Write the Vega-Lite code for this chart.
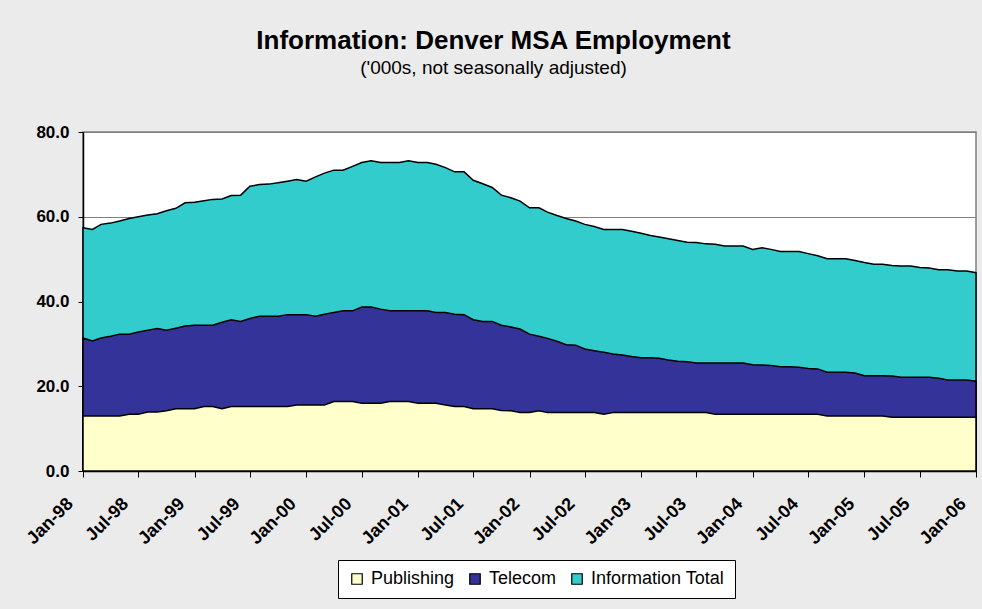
{
  "$schema": "https://vega.github.io/schema/vega-lite/v6.json",
  "width": 893,
  "height": 339,
  "autosize": {"type": "none"},
  "padding": {"left": 83, "top": 132, "right": 6, "bottom": 138},
  "background": "#ebebeb",
  "config": {
    "font": "Liberation Sans",
    "view": {"fill": "white", "stroke": "#808080", "strokeWidth": 1.5}
  },
  "title": {
    "text": "Information: Denver MSA Employment",
    "subtitle": "('000s, not seasonally adjusted)",
    "anchor": "middle",
    "dx": -36,
    "offset": 45,
    "fontSize": 26,
    "fontWeight": "bold",
    "color": "black",
    "subtitleFontSize": 19,
    "subtitleColor": "black",
    "subtitlePadding": 5,
    "font": "Liberation Sans",
    "subtitleFont": "Liberation Sans"
  },
  "data": {
    "values": [
      {"d": "1998-01-01", "Publishing": 13.0, "Telecom": 31.4, "Information Total": 57.4},
      {"d": "1998-02-01", "Publishing": 13.0, "Telecom": 30.7, "Information Total": 57.0},
      {"d": "1998-03-01", "Publishing": 13.0, "Telecom": 31.4, "Information Total": 58.2},
      {"d": "1998-04-01", "Publishing": 13.0, "Telecom": 31.8, "Information Total": 58.5},
      {"d": "1998-05-01", "Publishing": 13.0, "Telecom": 32.3, "Information Total": 59.0},
      {"d": "1998-06-01", "Publishing": 13.4, "Telecom": 32.3, "Information Total": 59.6},
      {"d": "1998-07-01", "Publishing": 13.4, "Telecom": 32.8, "Information Total": 60.0},
      {"d": "1998-08-01", "Publishing": 13.9, "Telecom": 33.2, "Information Total": 60.4},
      {"d": "1998-09-01", "Publishing": 13.9, "Telecom": 33.6, "Information Total": 60.7},
      {"d": "1998-10-01", "Publishing": 14.2, "Telecom": 33.2, "Information Total": 61.4},
      {"d": "1998-11-01", "Publishing": 14.7, "Telecom": 33.7, "Information Total": 62.0},
      {"d": "1998-12-01", "Publishing": 14.7, "Telecom": 34.2, "Information Total": 63.3},
      {"d": "1999-01-01", "Publishing": 14.7, "Telecom": 34.4, "Information Total": 63.4},
      {"d": "1999-02-01", "Publishing": 15.2, "Telecom": 34.4, "Information Total": 63.8},
      {"d": "1999-03-01", "Publishing": 15.2, "Telecom": 34.4, "Information Total": 64.1},
      {"d": "1999-04-01", "Publishing": 14.7, "Telecom": 35.1, "Information Total": 64.2},
      {"d": "1999-05-01", "Publishing": 15.2, "Telecom": 35.7, "Information Total": 65.0},
      {"d": "1999-06-01", "Publishing": 15.2, "Telecom": 35.3, "Information Total": 65.1},
      {"d": "1999-07-01", "Publishing": 15.2, "Telecom": 36.0, "Information Total": 67.2},
      {"d": "1999-08-01", "Publishing": 15.2, "Telecom": 36.5, "Information Total": 67.6},
      {"d": "1999-09-01", "Publishing": 15.2, "Telecom": 36.5, "Information Total": 67.7},
      {"d": "1999-10-01", "Publishing": 15.2, "Telecom": 36.5, "Information Total": 68.0},
      {"d": "1999-11-01", "Publishing": 15.2, "Telecom": 36.9, "Information Total": 68.4},
      {"d": "1999-12-01", "Publishing": 15.6, "Telecom": 36.9, "Information Total": 68.8},
      {"d": "2000-01-01", "Publishing": 15.6, "Telecom": 36.9, "Information Total": 68.4},
      {"d": "2000-02-01", "Publishing": 15.6, "Telecom": 36.5, "Information Total": 69.4},
      {"d": "2000-03-01", "Publishing": 15.6, "Telecom": 37.0, "Information Total": 70.3},
      {"d": "2000-04-01", "Publishing": 16.4, "Telecom": 37.4, "Information Total": 71.0},
      {"d": "2000-05-01", "Publishing": 16.4, "Telecom": 37.8, "Information Total": 71.0},
      {"d": "2000-06-01", "Publishing": 16.4, "Telecom": 37.8, "Information Total": 71.9},
      {"d": "2000-07-01", "Publishing": 16.0, "Telecom": 38.7, "Information Total": 72.8},
      {"d": "2000-08-01", "Publishing": 16.0, "Telecom": 38.7, "Information Total": 73.2},
      {"d": "2000-09-01", "Publishing": 16.0, "Telecom": 38.2, "Information Total": 72.8},
      {"d": "2000-10-01", "Publishing": 16.4, "Telecom": 37.8, "Information Total": 72.8},
      {"d": "2000-11-01", "Publishing": 16.4, "Telecom": 37.8, "Information Total": 72.8},
      {"d": "2000-12-01", "Publishing": 16.4, "Telecom": 37.8, "Information Total": 73.2},
      {"d": "2001-01-01", "Publishing": 16.0, "Telecom": 37.8, "Information Total": 72.8},
      {"d": "2001-02-01", "Publishing": 16.0, "Telecom": 37.8, "Information Total": 72.8},
      {"d": "2001-03-01", "Publishing": 16.0, "Telecom": 37.4, "Information Total": 72.4},
      {"d": "2001-04-01", "Publishing": 15.6, "Telecom": 37.4, "Information Total": 71.6},
      {"d": "2001-05-01", "Publishing": 15.2, "Telecom": 37.0, "Information Total": 70.6},
      {"d": "2001-06-01", "Publishing": 15.2, "Telecom": 36.9, "Information Total": 70.6},
      {"d": "2001-07-01", "Publishing": 14.7, "Telecom": 35.7, "Information Total": 68.6},
      {"d": "2001-08-01", "Publishing": 14.7, "Telecom": 35.3, "Information Total": 67.8},
      {"d": "2001-09-01", "Publishing": 14.7, "Telecom": 35.3, "Information Total": 66.9},
      {"d": "2001-10-01", "Publishing": 14.3, "Telecom": 34.4, "Information Total": 65.1},
      {"d": "2001-11-01", "Publishing": 14.2, "Telecom": 34.0, "Information Total": 64.5},
      {"d": "2001-12-01", "Publishing": 13.8, "Telecom": 33.5, "Information Total": 63.7},
      {"d": "2002-01-01", "Publishing": 13.8, "Telecom": 32.3, "Information Total": 62.1},
      {"d": "2002-02-01", "Publishing": 14.2, "Telecom": 31.8, "Information Total": 62.1},
      {"d": "2002-03-01", "Publishing": 13.8, "Telecom": 31.3, "Information Total": 61.1},
      {"d": "2002-04-01", "Publishing": 13.8, "Telecom": 30.6, "Information Total": 60.3},
      {"d": "2002-05-01", "Publishing": 13.8, "Telecom": 29.8, "Information Total": 59.6},
      {"d": "2002-06-01", "Publishing": 13.8, "Telecom": 29.7, "Information Total": 59.0},
      {"d": "2002-07-01", "Publishing": 13.8, "Telecom": 28.8, "Information Total": 58.2},
      {"d": "2002-08-01", "Publishing": 13.8, "Telecom": 28.4, "Information Total": 57.7},
      {"d": "2002-09-01", "Publishing": 13.4, "Telecom": 28.0, "Information Total": 57.0},
      {"d": "2002-10-01", "Publishing": 13.8, "Telecom": 27.6, "Information Total": 57.0},
      {"d": "2002-11-01", "Publishing": 13.8, "Telecom": 27.4, "Information Total": 57.0},
      {"d": "2002-12-01", "Publishing": 13.8, "Telecom": 27.0, "Information Total": 56.6},
      {"d": "2003-01-01", "Publishing": 13.8, "Telecom": 26.7, "Information Total": 56.1},
      {"d": "2003-02-01", "Publishing": 13.8, "Telecom": 26.7, "Information Total": 55.6},
      {"d": "2003-03-01", "Publishing": 13.8, "Telecom": 26.6, "Information Total": 55.2},
      {"d": "2003-04-01", "Publishing": 13.8, "Telecom": 26.2, "Information Total": 54.8},
      {"d": "2003-05-01", "Publishing": 13.8, "Telecom": 25.9, "Information Total": 54.4},
      {"d": "2003-06-01", "Publishing": 13.8, "Telecom": 25.8, "Information Total": 54.0},
      {"d": "2003-07-01", "Publishing": 13.8, "Telecom": 25.5, "Information Total": 53.9},
      {"d": "2003-08-01", "Publishing": 13.8, "Telecom": 25.5, "Information Total": 53.6},
      {"d": "2003-09-01", "Publishing": 13.4, "Telecom": 25.5, "Information Total": 53.5},
      {"d": "2003-10-01", "Publishing": 13.4, "Telecom": 25.5, "Information Total": 53.1},
      {"d": "2003-11-01", "Publishing": 13.4, "Telecom": 25.5, "Information Total": 53.1},
      {"d": "2003-12-01", "Publishing": 13.4, "Telecom": 25.5, "Information Total": 53.1},
      {"d": "2004-01-01", "Publishing": 13.4, "Telecom": 25.1, "Information Total": 52.3},
      {"d": "2004-02-01", "Publishing": 13.4, "Telecom": 25.0, "Information Total": 52.7},
      {"d": "2004-03-01", "Publishing": 13.4, "Telecom": 24.9, "Information Total": 52.3},
      {"d": "2004-04-01", "Publishing": 13.4, "Telecom": 24.6, "Information Total": 51.8},
      {"d": "2004-05-01", "Publishing": 13.4, "Telecom": 24.6, "Information Total": 51.8},
      {"d": "2004-06-01", "Publishing": 13.4, "Telecom": 24.5, "Information Total": 51.8},
      {"d": "2004-07-01", "Publishing": 13.4, "Telecom": 24.2, "Information Total": 51.3},
      {"d": "2004-08-01", "Publishing": 13.4, "Telecom": 24.1, "Information Total": 50.8},
      {"d": "2004-09-01", "Publishing": 13.0, "Telecom": 23.3, "Information Total": 50.1},
      {"d": "2004-10-01", "Publishing": 13.0, "Telecom": 23.3, "Information Total": 50.1},
      {"d": "2004-11-01", "Publishing": 13.0, "Telecom": 23.3, "Information Total": 50.1},
      {"d": "2004-12-01", "Publishing": 13.0, "Telecom": 23.1, "Information Total": 49.7},
      {"d": "2005-01-01", "Publishing": 13.0, "Telecom": 22.5, "Information Total": 49.2},
      {"d": "2005-02-01", "Publishing": 13.0, "Telecom": 22.5, "Information Total": 48.8},
      {"d": "2005-03-01", "Publishing": 13.0, "Telecom": 22.5, "Information Total": 48.8},
      {"d": "2005-04-01", "Publishing": 12.7, "Telecom": 22.4, "Information Total": 48.5},
      {"d": "2005-05-01", "Publishing": 12.7, "Telecom": 22.1, "Information Total": 48.4},
      {"d": "2005-06-01", "Publishing": 12.7, "Telecom": 22.1, "Information Total": 48.4},
      {"d": "2005-07-01", "Publishing": 12.7, "Telecom": 22.1, "Information Total": 48.0},
      {"d": "2005-08-01", "Publishing": 12.7, "Telecom": 22.1, "Information Total": 47.9},
      {"d": "2005-09-01", "Publishing": 12.7, "Telecom": 21.9, "Information Total": 47.5},
      {"d": "2005-10-01", "Publishing": 12.7, "Telecom": 21.5, "Information Total": 47.5},
      {"d": "2005-11-01", "Publishing": 12.7, "Telecom": 21.5, "Information Total": 47.2},
      {"d": "2005-12-01", "Publishing": 12.7, "Telecom": 21.5, "Information Total": 47.2},
      {"d": "2006-01-01", "Publishing": 12.7, "Telecom": 21.2, "Information Total": 46.8}
    ]
  },
  "transform": [
    {"fold": ["Publishing", "Telecom", "Information Total"], "as": ["series", "value"]}
  ],
  "encoding": {
    "x": {
      "field": "d",
      "type": "temporal",
      "title": null,
      "scale": {"type": "utc", "nice": false},
      "axis": {
        "labelExpr": "utcFormat(datum.value, '%b-%y')",
        "tickCount": {"interval": "month", "step": 6},
        "labelAngle": -45,
        "labelAlign": "right",
        "labelBaseline": "middle",
        "labelFontSize": 18,
        "labelFontWeight": "bold",
        "labelColor": "black",
        "labelPadding": 24,
        "labelOffset": -13,
        "labelOverlap": false,
        "labelFlush": false,
        "tickColor": "black",
        "tickSize": 6,
        "tickWidth": 1,
        "domainColor": "black",
        "domainWidth": 1.5,
        "grid": false
      }
    },
    "y": {
      "field": "value",
      "type": "quantitative",
      "title": null,
      "scale": {"domain": [0, 80], "nice": false},
      "axis": {
        "values": [0, 20, 40, 60, 80],
        "format": ".1f",
        "labelFontSize": 17,
        "labelFontWeight": "bold",
        "labelColor": "black",
        "labelPadding": 9,
        "tickColor": "black",
        "tickSize": 5,
        "domainColor": "black",
        "domainWidth": 1.5,
        "grid": true,
        "gridColor": "#808080",
        "gridWidth": 1.2
      }
    },
    "color": {
      "field": "series",
      "type": "nominal",
      "scale": {
        "domain": ["Publishing", "Telecom", "Information Total"],
        "range": ["#FFFFCC", "#333399", "#33CCCC"]
      },
      "legend": {
        "title": null,
        "orient": "none",
        "direction": "horizontal",
        "legendX": 255,
        "legendY": 428,
        "fillColor": "white",
        "strokeColor": "black",
        "padding": 10,
        "symbolType": "square",
        "symbolSize": 110,
        "symbolStrokeColor": "black",
        "symbolStrokeWidth": 1.2,
        "labelFontSize": 18,
        "labelColor": "black",
        "labelFont": "Liberation Sans",
        "columnPadding": 11,
        "labelOffset": 5
      }
    }
  },
  "layer": [
    {
      "transform": [{"filter": "datum.series === 'Information Total'"}],
      "mark": {"type": "area", "stroke": "black", "strokeWidth": 1.5, "opacity": 1}
    },
    {
      "transform": [{"filter": "datum.series === 'Telecom'"}],
      "mark": {"type": "area", "stroke": "black", "strokeWidth": 1.5, "opacity": 1}
    },
    {
      "transform": [{"filter": "datum.series === 'Publishing'"}],
      "mark": {"type": "area", "stroke": "black", "strokeWidth": 1.5, "opacity": 1}
    }
  ]
}
